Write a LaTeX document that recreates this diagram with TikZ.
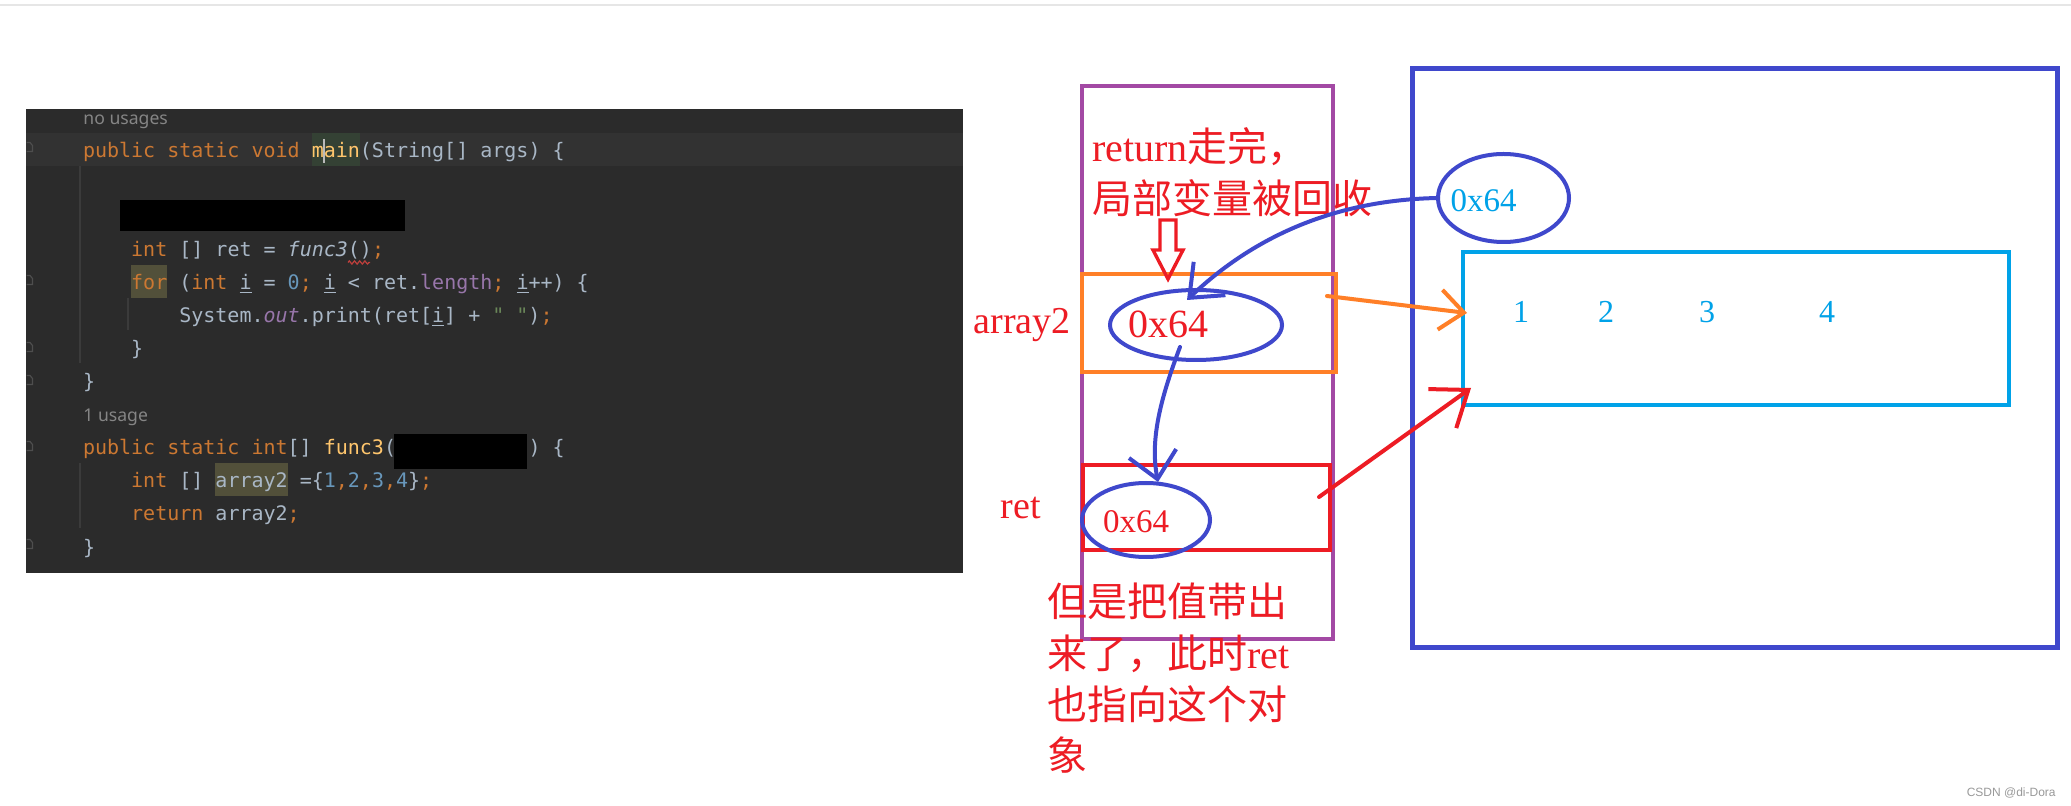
\documentclass[tikz,border=0pt]{standalone}
\usepackage{fontspec}
\setmonofont{DejaVu Sans Mono}
\newfontfamily\cjk{Noto Sans CJK SC}
\newfontfamily\lat{Liberation Serif}
\newfontfamily\uisans{Noto Sans}
\newfontfamily\wmfont{Liberation Sans}
\usetikzlibrary{arrows.meta,decorations.pathmorphing,shapes.geometric}
\definecolor{panel}{HTML}{2B2B2B}
\definecolor{curline}{HTML}{323232}
\definecolor{kw}{HTML}{CC7832}
\definecolor{df}{HTML}{A9B7C6}
\definecolor{nm}{HTML}{6897BB}
\definecolor{fn}{HTML}{FFC66D}
\definecolor{pu}{HTML}{9876AA}
\definecolor{st}{HTML}{6A8759}
\definecolor{hint}{HTML}{858585}
\definecolor{mainbg}{HTML}{344134}
\definecolor{olivebg}{HTML}{52503A}
\definecolor{guide}{HTML}{3B3B3B}
\definecolor{foldc}{HTML}{4E4E4E}
\definecolor{squigc}{HTML}{BC3F3C}
\definecolor{purp}{HTML}{A349A4}
\definecolor{orng}{HTML}{FF7F27}
\definecolor{annred}{HTML}{ED1C24}
\definecolor{penblue}{HTML}{3F48CC}
\definecolor{cyanc}{HTML}{00A2E8}
\definecolor{wmgray}{HTML}{999999}
\definecolor{edgec}{HTML}{E6E6E6}
\newcommand\ckw[1]{\textcolor{kw}{#1}}
\newcommand\cnm[1]{\textcolor{nm}{#1}}
\newcommand\cfn[1]{\textcolor{fn}{#1}}
\newcommand\cpu[1]{\textcolor{pu}{#1}}
\newcommand\cst[1]{\textcolor{st}{#1}}
\tikzset{
  code/.style={anchor=base west, inner sep=0pt, outer sep=0pt, text=df,
    font=\ttfamily\fontsize{10pt}{12pt}\selectfont},
  hintline/.style={anchor=base west, inner sep=0pt, text=hint,
    font=\uisans\fontsize{8.8pt}{10pt}\selectfont},
  box/.style={draw, line width=2pt, rectangle, inner sep=0pt, outer sep=0pt},
  oval/.style={draw=penblue, line width=2pt, ellipse, inner sep=0pt, outer sep=0pt},
  ann/.style={text=annred, inner sep=0pt, outer sep=0pt, anchor=base west,
    font=\fontsize{20pt}{25pt}\selectfont},
  lab/.style={inner sep=0pt, outer sep=0pt, anchor=base},
  pen/.style={line width=2pt, line cap=round, line join=round},
  fold/.style={draw=foldc, line width=0.6pt},
}
\begin{document}
\begin{tikzpicture}[x=0.5pt,y=-0.5pt]
\useasboundingbox (0,0) rectangle (2071,806);
\fill[white] (0,0) rectangle (2071,806);
\draw[edgec, line width=0.75pt] (0,5) -- (2071,5);

% ---------- code panel ----------
\node[fill=panel, inner sep=0pt, outer sep=0pt, minimum width=468.5pt, minimum height=232pt] (codepanel) at (494.5,341) {};
\fill[curline] (26,133) rectangle (963,166);
\fill[mainbg] (311.8,133) rectangle (359.9,166);
\fill[olivebg] (131.2,265) rectangle (167.3,298);
\fill[olivebg] (215.4,463) rectangle (287.7,496);
\draw[guide, line width=1pt] (80,166) -- (80,363);
\draw[guide, line width=1pt] (128,298) -- (128,330);
\draw[guide, line width=1pt] (80,463) -- (80,528);
\foreach \yy in {147,280,347,380,446,544}{
  \draw[fold] (26.5,\yy-4.5) -- (30,\yy-4.5) -- (32.5,\yy-1.5) -- (32.5,\yy+4.5) -- (26.5,\yy+4.5);
}
\fill[black] (120,200) rectangle (405,231);
\fill[black] (394,434) rectangle (527,469);

\node[hintline] (h1) at (83,125) {no usages};
\node[code] (l1) at (83,158) {\ckw{public static void }\cfn{main}(String[] args) \{};
\draw[white!73!black, line width=1pt] (323.5,139) -- (323.5,163);
\node[code] (l3) at (131.2,257) {\ckw{int} [] ret = {\itshape func3}()\ckw{;}};
\draw[squigc, line width=0.6pt, decorate, decoration={zigzag, amplitude=0.8pt, segment length=2.6pt}] (348,262.5) -- (370,262.5);
\node[code] (l4) at (131.2,290) {\ckw{for} (\ckw{int} \underline{i} = \cnm{0}\ckw{;} \underline{i} < ret.\cpu{length}\ckw{;} \underline{i}++) \{};
\node[code] (l5) at (179.3,323) {System.\cpu{\itshape out}.print(ret[\underline{i}] + \cst{" "})\ckw{;}};
\node[code] (l6) at (131.2,356) {\}};
\node[code] (l7) at (83,389) {\}};
\node[hintline] (h2) at (83,422) {1 usage};
\node[code] (l9) at (83,455) {\ckw{public static int}[] \cfn{func3}(};
\node[code] (l9b) at (528.5,455) {) \{};
\node[code] (l10) at (131.2,488) {\ckw{int} [] array2 =\{\cnm{1}\ckw{,}\cnm{2}\ckw{,}\cnm{3}\ckw{,}\cnm{4}\}\ckw{;}};
\node[code] (l11) at (131.2,521) {\ckw{return} array2\ckw{;}};
\node[code] (l12) at (83,554) {\}};

% ---------- stack ----------
\node[box, draw=purp, minimum width=125.5pt, minimum height=276.5pt] (stack) at (1207.5,362.5) {};
\node[box, draw=orng, minimum width=127pt, minimum height=49pt] (ob) at (1209,323) {};
\node[box, draw=annred, minimum width=123.5pt, minimum height=42.5pt] (rb) at (1206.5,507.5) {};

% ---------- heap ----------
\node[box, draw=penblue, line width=2.5pt, minimum width=322.5pt, minimum height=289pt] (heap) at (1734.5,358) {};
\node[box, draw=cyanc, minimum width=273pt, minimum height=76.5pt] (cy) at (1736,328.5) {};

% ellipses
\node[oval, minimum width=86pt, minimum height=35pt] (ea) at (1196,325) {};
\node[oval, minimum width=64pt, minimum height=37pt] (er) at (1146,520) {};
\node[oval, minimum width=65.5pt, minimum height=44pt] (eh) at (1503.5,198) {};

% labels
\node[lab, text=annred, font=\lat\fontsize{19pt}{24pt}\selectfont] (tarr) at (1022,334) {array2};
\node[lab, text=annred, font=\lat\fontsize{19pt}{24pt}\selectfont] (tret) at (1021,519) {ret};
\node[lab, text=annred, font=\lat\fontsize{20pt}{24pt}\selectfont] (ta) at (1168,338) {0x64};
\node[lab, text=annred, font=\lat\fontsize{16.5pt}{20pt}\selectfont] (tr) at (1136,532) {0x64};
\node[lab, text=cyanc, font=\lat\fontsize{16.5pt}{20pt}\selectfont] (th) at (1483.5,212) {0x64};
\node[lab, text=cyanc, font=\lat\fontsize{16pt}{20pt}\selectfont] (n1) at (1521,323) {1};
\node[lab, text=cyanc, font=\lat\fontsize{16pt}{20pt}\selectfont] (n2) at (1606,323) {2};
\node[lab, text=cyanc, font=\lat\fontsize{16pt}{20pt}\selectfont] (n3) at (1707,323) {3};
\node[lab, text=cyanc, font=\lat\fontsize{16pt}{20pt}\selectfont] (n4) at (1827,323) {4};

% annotations
\node[ann] (t1) at (1092,162) {{\lat return}{\cjk 走完，}};
\node[ann] (t2) at (1092,214) {\cjk 局部变量被回收};
\node[ann] (b1) at (1047,617) {\cjk 但是把值带出};
\node[ann] (b2) at (1047,668) {{\cjk 来了，此时}{\lat ret}};
\node[ann] (b3) at (1047,719) {\cjk 也指向这个对};
\node[ann] (b4) at (1047,770) {\cjk 象};

% hollow down arrow
\draw[annred, line width=1.7pt, line join=miter]
  (1160,220) -- (1176,220) -- (1176,250) -- (1183,250) -- (1168,279) -- (1153,250) -- (1160,250) -- cycle;

% connectors
\draw[pen, penblue, -{Straight Barb[length=14pt,width=23pt]}]
  (eh.west) .. controls (1330,200) and (1250,240) .. ([shift={(-9,10)}]ea.north);
\draw[pen, penblue, -{Straight Barb[length=13pt,width=24pt]}]
  ([shift={(-16,-13)}]ea.south) .. controls (1160,400) and (1150,440) .. ([shift={(12,-1)}]er.north);
\draw[pen, orng, -{Straight Barb[length=12pt,width=20pt]}]
  ([shift={(-9,-27)}]ob.east) -- ([shift={(4,-15.5)}]cy.west);
\draw[pen, annred, -{Straight Barb[length=16pt,width=24pt]}]
  ([shift={(-11,-10.5)}]rb.east) -- ([shift={(8,-17)}]cy.south west);

% watermark
\node[anchor=east, inner sep=0pt, text=wmgray, font=\wmfont\fontsize{6pt}{7pt}\selectfont] (wm) at (2056,793) {CSDN @di-Dora};
\end{tikzpicture}
\end{document}
